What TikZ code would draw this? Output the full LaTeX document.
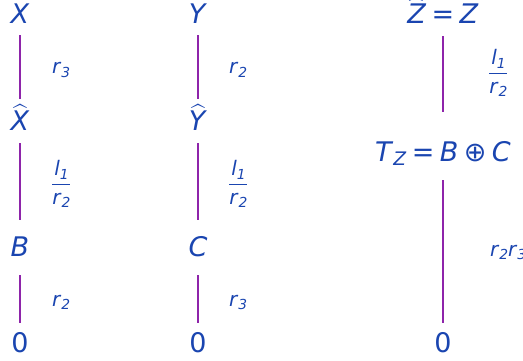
\documentclass[tikz,border=0pt]{standalone}
\usepackage{amsmath}
\usepackage{graphicx}
\usepackage{fontspec}
\setmainfont{DejaVu Sans}
\definecolor{txt}{HTML}{1A45B0}
\definecolor{ln}{HTML}{8E24AA}
\newcommand{\iv}[1]{\textit{#1}}
\newcommand{\isb}[2]{\textit{#1}\raisebox{-0.17em}{\scalebox{0.69}{\textit{#2}}}}
\newcommand{\ifr}[2]{$\dfrac{\hbox{#1}}{\hbox{#2}}$}
\newcommand{\ihat}[1]{$\widehat{\hbox{\textit{#1}}}$}
\begin{document}
\begin{tikzpicture}[x=1pt,y=-1pt,
  mainnode/.style={inner sep=0pt, text height=19pt, text depth=0pt, anchor=base, text=txt, font=\fontsize{27}{32}\selectfont},
  lab/.style={inner sep=0pt, anchor=base west, text=txt, font=\fontsize{20}{24}\selectfont},
  fraclab/.style={inner sep=0pt, anchor=west, text=txt, font=\fontsize{20}{24}\selectfont},
  link/.style 2 args={draw=ln, line width=2pt, shorten <=#1pt, shorten >=#2pt}]
\useasboundingbox (0,0) rectangle (523,361);
% left column
\node[mainnode] (X) at (20,24) {\iv{X}};
\node[mainnode] (Xh) at (20,131) {\ihat{X}};
\node[mainnode] (B) at (20,256) {\iv{B}};
\node[mainnode] (B0) at (20,352) {0};
\draw[link={11}{13}] (X.south) -- (Xh.north);
\draw[link={12}{17}] (Xh.south) -- (B.north);
\draw[link={19}{10}] (B.south) -- (B0.north);
\node[lab] (lx1) at (52,74) {\isb{r}{3}};
\node[fraclab] (lx2) at (51,184) {\ifr{\isb{l}{1}}{\isb{r}{2}}};
\node[lab] (lx3) at (52,306) {\isb{r}{2}};
% middle column
\node[mainnode] (Y) at (198,24) {\iv{Y}};
\node[mainnode] (Yh) at (198,131) {\ihat{Y}};
\node[mainnode] (C) at (198,256) {\iv{C}};
\node[mainnode] (C0) at (198,352) {0};
\draw[link={11}{13}] (Y.south) -- (Yh.north);
\draw[link={12}{17}] (Yh.south) -- (C.north);
\draw[link={19}{10}] (C.south) -- (C0.north);
\node[lab] (ly1) at (229,74) {\isb{r}{2}};
\node[fraclab] (ly2) at (228,184) {\ifr{\isb{l}{1}}{\isb{r}{2}}};
\node[lab] (ly3) at (229,306) {\isb{r}{3}};
% right column
\node[mainnode] (Z) at (443,24) {\ihat{Z}\hspace{0.2em}=\hspace{0.2em}\iv{Z}};
\node[mainnode] (T) at (443,161) {\isb{T}{Z}\hspace{0.2em}=\hspace{0.2em}\iv{B}\hspace{0.2em}⊕\hspace{0.2em}\iv{C}};
\node[mainnode] (T0) at (443,352) {0};
\draw[link={12}{30}] (Z.south) -- (T.north);
\draw[link={19}{10}] (T.south) -- (T0.north);
\node[fraclab] (lz1) at (488,73) {\ifr{\isb{l}{1}}{\isb{r}{2}}};
\node[lab] (lz2) at (490,256) {\isb{r}{2}\isb{r}{3}};
\end{tikzpicture}
\end{document}
